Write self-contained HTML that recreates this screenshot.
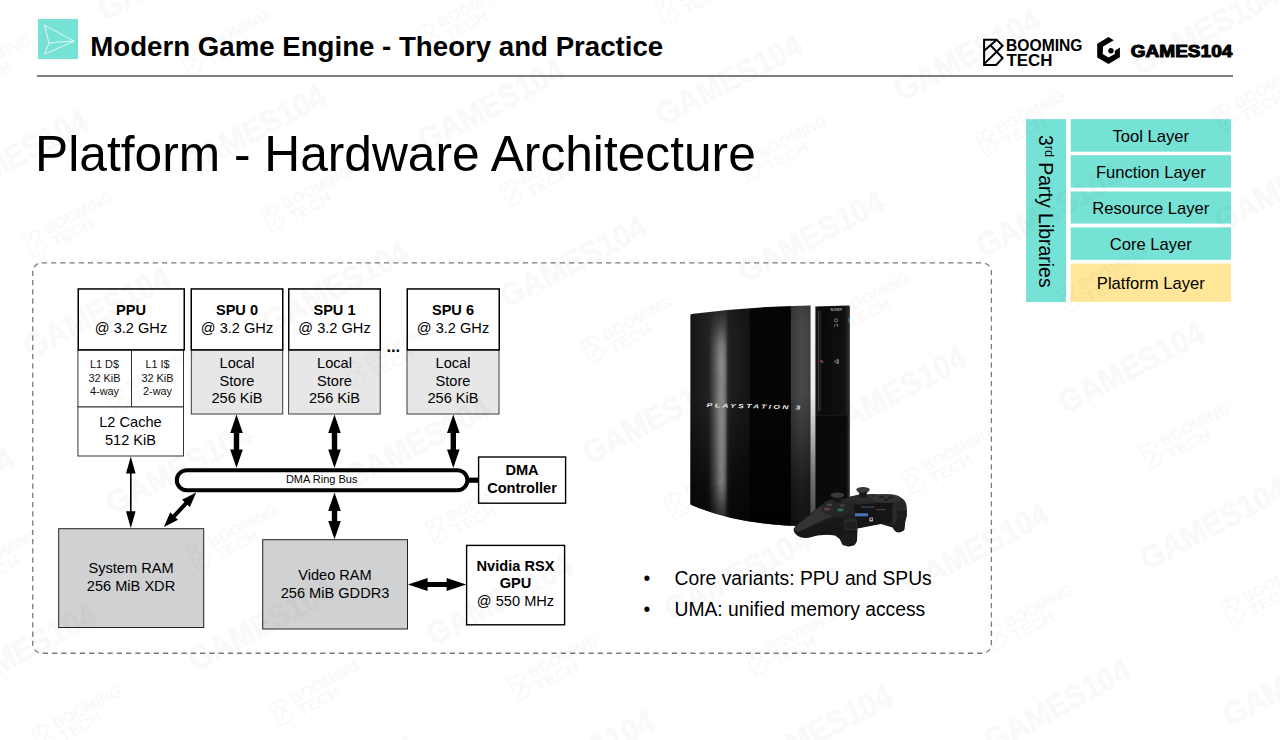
<!DOCTYPE html>
<html lang="en">
<head>
<meta charset="utf-8">
<title>Platform - Hardware Architecture</title>
<style>
html,body{margin:0;padding:0;background:#fff;}
body{width:1280px;height:740px;position:relative;overflow:hidden;font-family:"Liberation Sans",sans-serif;color:#000;}
.abs{position:absolute;}
.t{position:absolute;white-space:nowrap;line-height:1;}
svg{position:absolute;left:0;top:0;overflow:visible;}
svg text{font-family:"Liberation Sans",sans-serif;}
#hicon{left:38.1px;top:19.3px;width:39.7px;height:39.6px;background:#76e2d6;}
#htitle{left:90.3px;top:32.8px;font-size:27.65px;font-weight:bold;}
#hline{left:37px;top:75.2px;width:1195.5px;height:1.5px;background:#7f7f7f;}
#title{left:35.1px;top:129.6px;font-size:49.7px;}
.bul{position:absolute;font-size:19.3px;line-height:1;white-space:nowrap;}

</style>
</head>
<body>
<div class="abs" id="hicon"></div>
<svg width="1280" height="740" viewBox="0 0 1280 740" style="pointer-events:none">
<g fill="none" stroke="#fff" stroke-width="0.75" stroke-linejoin="round">
<path d="M44.3 25.1 L44.5 54.1" stroke="#a3c4c0" stroke-width="0.8"/>
<path d="M44.3 25.1 L74.2 41.2 L44.5 54.1 L49 42.9 Z"/>
<path d="M49 42.9 L55.5 42.7 L56 42.2 L74.2 41.2"/>
</g>
</svg>
<div class="t" id="htitle">Modern Game Engine - Theory and Practice</div>
<div class="abs" id="hline"></div>
<div class="t" id="title">Platform - Hardware Architecture</div>

<svg width="1280" height="740" viewBox="0 0 1280 740">
<g fill="none" stroke="#000" stroke-width="2" stroke-linejoin="miter">
<path d="M984.1 39.8 H996.7 L1002.6 45.7 L996.7 51.8 L1002.6 58.1 L996.2 64.9 H984.1 Z"/>
<path d="M984.1 50.8 L996.2 40.2"/>
<path d="M990.6 45.4 L996.7 51.8 L984.4 63.6"/>
</g>
<g font-weight="bold" font-size="16.2" fill="#000">
<text x="1006" y="50.8" textLength="76.5" lengthAdjust="spacingAndGlyphs">BOOMING</text>
<text x="1006.4" y="65.7" textLength="46" lengthAdjust="spacingAndGlyphs">TECH</text>
</g>
<path d="M1108.5 37.1 L1113.8 40.3 L1103.1 46.4 L1102.7 54.1 L1108.5 57.5 L1114.8 53.9 L1114.8 50.7 L1119.9 47.6 L1119.9 57.3 L1108.5 63.9 L1097.2 57.5 L1097.2 43.7 Z" fill="#000"/>
<circle cx="1110.9" cy="50.7" r="2.7" fill="#000"/>
<text x="1130.8" y="57" font-weight="bold" font-size="16" fill="#000" stroke="#000" stroke-width="1" stroke-linejoin="round" textLength="101.5" lengthAdjust="spacingAndGlyphs">GAMES104</text>
</svg>

<svg width="1280" height="740" viewBox="0 0 1280 740">
<g fill="#76e2d6">
<rect x="1026.1" y="119.15" width="39.9" height="182.8"/>
<rect x="1070.7" y="119.15" width="160.3" height="32.55"/>
<rect x="1070.7" y="155.2" width="160.3" height="32.5"/>
<rect x="1070.7" y="191.5" width="160.3" height="32.1"/>
<rect x="1070.7" y="227.4" width="160.3" height="32.45"/>
</g>
<rect x="1070.7" y="263.5" width="160.3" height="38.45" fill="#ffe699"/>
<g font-size="16.6" text-anchor="middle" fill="#000">
<text x="1150.8" y="141.9">Tool Layer</text>
<text x="1150.8" y="177.8">Function Layer</text>
<text x="1150.8" y="213.6">Resource Layer</text>
<text x="1150.8" y="249.8">Core Layer</text>
<text x="1150.8" y="288.6">Platform Layer</text>
</g>
<text transform="translate(1039.4 134.9) rotate(90)" font-size="19.45" fill="#000">3<tspan font-size="12.6" dy="-5.8">rd</tspan><tspan dy="5.8"> Party Libraries</tspan></text>
</svg>

<svg width="1280" height="740" viewBox="0 0 1280 740">
<rect x="32.75" y="262.9" width="958.65" height="390.35" rx="9" ry="9" fill="none" stroke="#7a7a7a" stroke-width="1.3" stroke-dasharray="5.2 4.05"/>
<!-- L1 / L2 -->
<g fill="#fff" stroke="#2a2a2a" stroke-width="0.95">
<rect x="77.95" y="350" width="53.55" height="57"/>
<rect x="131.5" y="350" width="52" height="57"/>
<rect x="77.95" y="407" width="105.55" height="49"/>
</g>
<!-- local stores -->
<g fill="#e7e7e8" stroke="#3a3a3a" stroke-width="1">
<rect x="191.3" y="350" width="91.4" height="64"/>
<rect x="288.6" y="350" width="91.6" height="64"/>
<rect x="407" y="350" width="92" height="64"/>
</g>
<!-- RAM -->
<g fill="#d0d1d3" stroke="#222" stroke-width="1">
<rect x="58.7" y="528.7" width="145" height="98.8"/>
<rect x="262.7" y="539.7" width="144.8" height="89.3"/>
</g>
<!-- processor boxes -->
<g fill="#fff" stroke="#000" stroke-width="1.5">
<rect x="78.25" y="288.95" width="106" height="60.9"/>
<rect x="191.25" y="288.95" width="91.5" height="60.9"/>
<rect x="288.75" y="288.95" width="91.5" height="60.9"/>
<rect x="407.25" y="288.95" width="92" height="60.9"/>
</g>
<g fill="#fff" stroke="#000" stroke-width="1.4">
<rect x="478.6" y="457" width="87" height="46.2"/>
<rect x="466.6" y="545.4" width="98" height="79.4"/>
</g>
<!-- ring bus -->
<rect x="176.8" y="470.15" width="290.6" height="20.2" rx="10.1" ry="10.1" fill="#fff" stroke="#000" stroke-width="4"/>
<rect x="469" y="477.6" width="10" height="5.2" fill="#000"/>
<!-- arrows -->
<g fill="#000">
<polygon points="236.50,414.60 230.20,432.90 233.80,432.90 233.80,449.60 230.20,449.60 236.50,467.90 242.80,449.60 239.20,449.60 239.20,432.90 242.80,432.90"/>
<polygon points="334.50,414.60 328.20,432.90 331.80,432.90 331.80,449.60 328.20,449.60 334.50,467.90 340.80,449.60 337.20,449.60 337.20,432.90 340.80,432.90"/>
<polygon points="453.30,414.60 447.00,432.90 450.60,432.90 450.60,449.60 447.00,449.60 453.30,467.90 459.60,449.60 456.00,449.60 456.00,432.90 459.60,432.90"/>
<polygon points="334.50,492.60 328.20,510.90 331.80,510.90 331.80,520.90 328.20,520.90 334.50,539.20 340.80,520.90 337.20,520.90 337.20,510.90 340.80,510.90"/>
<polygon points="130.80,456.50 126.00,473.50 130.00,473.50 130.00,511.30 126.00,511.30 130.80,528.30 135.60,511.30 131.60,511.30 131.60,473.50 135.60,473.50"/>
<polygon points="196.20,492.40 182.02,499.68 184.50,502.00 172.67,514.67 170.19,512.35 163.90,527.00 178.08,519.72 175.60,517.40 187.43,504.73 189.91,507.05"/>
<polygon points="408.00,584.50 427.60,591.10 427.60,587.10 446.60,587.10 446.60,591.10 466.20,584.50 446.60,577.90 446.60,581.90 427.60,581.90 427.60,577.90"/>
</g>
<!-- labels -->
<g font-size="14.6" text-anchor="middle" fill="#000">
<text x="131" y="314.9" font-weight="bold">PPU</text>
<text x="131" y="333.2">@ 3.2 GHz</text>
<text x="237" y="314.9" font-weight="bold">SPU 0</text>
<text x="237" y="333.2">@ 3.2 GHz</text>
<text x="334.5" y="314.9" font-weight="bold">SPU 1</text>
<text x="334.5" y="333.2">@ 3.2 GHz</text>
<text x="453" y="314.9" font-weight="bold">SPU 6</text>
<text x="453" y="333.2">@ 3.2 GHz</text>
<text x="393.3" y="352.4" font-weight="bold" font-size="16.6">...</text>
<text x="237" y="368">Local</text>
<text x="237" y="385.7">Store</text>
<text x="237" y="403">256 KiB</text>
<text x="334.5" y="368">Local</text>
<text x="334.5" y="385.7">Store</text>
<text x="334.5" y="403">256 KiB</text>
<text x="453" y="368">Local</text>
<text x="453" y="385.7">Store</text>
<text x="453" y="403">256 KiB</text>
<text x="130.5" y="427">L2 Cache</text>
<text x="130.5" y="444.5">512 KiB</text>
<text x="131" y="573">System RAM</text>
<text x="131" y="590.5">256 MiB XDR</text>
<text x="335" y="580">Video RAM</text>
<text x="335" y="597.5">256 MiB GDDR3</text>
<text x="522" y="474.5" font-weight="bold">DMA</text>
<text x="522" y="492.5" font-weight="bold">Controller</text>
<text x="515.5" y="570.5" font-weight="bold">Nvidia RSX</text>
<text x="515.5" y="588" font-weight="bold">GPU</text>
<text x="515.5" y="606">@ 550 MHz</text>
</g>
<g font-size="10.9" text-anchor="middle" fill="#111">
<text x="104.5" y="368.2">L1 D$</text>
<text x="104.5" y="381.6">32 KiB</text>
<text x="104.5" y="394.8">4-way</text>
<text x="157.5" y="368.2">L1 I$</text>
<text x="157.5" y="381.6">32 KiB</text>
<text x="157.5" y="394.8">2-way</text>
</g>
<text x="321.7" y="483.3" font-size="11" text-anchor="middle" fill="#000">DMA Ring Bus</text>
</svg>

<svg width="1280" height="740" viewBox="0 0 1280 740">
<defs>
<linearGradient id="bodyg" gradientUnits="userSpaceOnUse" x1="690" y1="0" x2="811" y2="0">
<stop offset="0" stop-color="#0e0e0e"/>
<stop offset="0.02" stop-color="#18181a"/>
<stop offset="0.16" stop-color="#222224"/>
<stop offset="0.21" stop-color="#2c2c2e"/>
<stop offset="0.30" stop-color="#2a2a2c"/>
<stop offset="0.32" stop-color="#1d1e20"/>
<stop offset="0.49" stop-color="#141516"/>
<stop offset="0.497" stop-color="#050505"/>
<stop offset="0.83" stop-color="#050505"/>
<stop offset="0.834" stop-color="#38393b"/>
<stop offset="0.92" stop-color="#48494c"/>
<stop offset="0.985" stop-color="#404043"/>
<stop offset="1" stop-color="#2a2a2a"/>
</linearGradient>
<linearGradient id="hlh" gradientUnits="userSpaceOnUse" x1="706" y1="0" x2="731" y2="0">
<stop offset="0" stop-color="#fff" stop-opacity="0"/>
<stop offset="0.12" stop-color="#fff" stop-opacity="0.02"/>
<stop offset="0.38" stop-color="#fff" stop-opacity="0.24"/>
<stop offset="0.52" stop-color="#fff" stop-opacity="0.40"/>
<stop offset="0.64" stop-color="#fff" stop-opacity="0.45"/>
<stop offset="0.75" stop-color="#fff" stop-opacity="0.36"/>
<stop offset="0.87" stop-color="#fff" stop-opacity="0.05"/>
<stop offset="1" stop-color="#fff" stop-opacity="0"/>
</linearGradient>
<linearGradient id="hlv" gradientUnits="userSpaceOnUse" x1="0" y1="305" x2="0" y2="527">
<stop offset="0" stop-color="#000"/>
<stop offset="0.05" stop-color="#1a1a1a"/>
<stop offset="0.1" stop-color="#555"/>
<stop offset="0.18" stop-color="#ddd"/>
<stop offset="0.25" stop-color="#fff"/>
<stop offset="0.8" stop-color="#fff"/>
<stop offset="0.9" stop-color="#888"/>
<stop offset="1" stop-color="#222"/>
</linearGradient>
<mask id="hlmask" maskUnits="userSpaceOnUse" x="690" y="300" width="130" height="235"><rect x="690" y="300" width="130" height="235" fill="url(#hlv)"/></mask>
<clipPath id="bodyclip"><path d="M690.4 315.4 Q690.4 314.2 691.6 314 Q750 306.5 810.5 305.5 L810.5 526.3 Q740 526 691.4 505 Q690.4 504.6 690.4 503.4 Z"/></clipPath>
<linearGradient id="bodyv" gradientUnits="userSpaceOnUse" x1="0" y1="305" x2="0" y2="527">
<stop offset="0" stop-color="#000" stop-opacity="0.12"/>
<stop offset="0.1" stop-color="#000" stop-opacity="0"/>
<stop offset="0.4" stop-color="#000" stop-opacity="0"/>
<stop offset="0.65" stop-color="#000" stop-opacity="0.35"/>
<stop offset="0.8" stop-color="#000" stop-opacity="0.6"/>
<stop offset="1" stop-color="#000" stop-opacity="0.75"/>
</linearGradient>
<linearGradient id="chromeg" gradientUnits="userSpaceOnUse" x1="0" y1="305" x2="0" y2="527">
<stop offset="0" stop-color="#f8f8f8"/>
<stop offset="0.4" stop-color="#ededed"/>
<stop offset="0.55" stop-color="#c0c0c0"/>
<stop offset="0.7" stop-color="#8a8a8a"/>
<stop offset="0.8" stop-color="#6c6c6c"/>
<stop offset="1" stop-color="#444"/>
</linearGradient>
<linearGradient id="panelg" gradientUnits="userSpaceOnUse" x1="814" y1="0" x2="850" y2="0">
<stop offset="0" stop-color="#1a1a1a"/>
<stop offset="0.2" stop-color="#0a0a0a"/>
<stop offset="0.85" stop-color="#111111"/>
<stop offset="0.95" stop-color="#262626"/>
<stop offset="1" stop-color="#3a3a3a"/>
</linearGradient>
<linearGradient id="padg" gradientUnits="userSpaceOnUse" x1="0" y1="490" x2="0" y2="545">
<stop offset="0" stop-color="#303030"/>
<stop offset="0.5" stop-color="#1e1e1e"/>
<stop offset="1" stop-color="#141414"/>
</linearGradient>
</defs>
<!-- front panel -->
<path d="M814 306.6 L848.9 305.6 Q849.9 305.7 849.9 307 L849.9 500 L814 527 Z" fill="url(#panelg)"/>
<rect x="815" y="415" width="32.6" height="100" fill="#161616"/>
<rect x="815.8" y="416" width="30.8" height="100" fill="#0a0a0a"/>
<rect x="818.2" y="311" width="1.1" height="100" fill="#4a4a4a"/>
<rect x="819.3" y="311" width="2" height="100" fill="#1e1e1e"/>
<text x="830.3" y="311" font-family="'Liberation Serif',serif" font-weight="bold" font-size="3.8" fill="#a8a8a8" textLength="12.2" lengthAdjust="spacingAndGlyphs">SONY</text>
<g fill="none" stroke="#bdbdbd" stroke-width="0.6">
<circle cx="836" cy="320.5" r="1.6"/>
<path d="M834.6 324.5 V326.8 M835.8 324.5 H837.6 V326.8"/>
<path d="M834.4 361.5 L837.6 359.3 V363.7 Z M838.4 359.3 V363.7"/>
</g>
<circle cx="821.3" cy="361" r="1.1" fill="#d23a3a"/>
<circle cx="822.6" cy="362.2" r="0.9" fill="#3a62c8"/>
<rect x="848.6" y="317.6" width="1.2" height="2.6" fill="#3d8fd8"/>
<rect x="848.6" y="320.4" width="1.2" height="2" fill="#4fae6a"/>
<!-- chrome strip -->
<path d="M810.3 305.6 L815.4 306.3 L815.4 524 L810.3 526.3 Z" fill="url(#chromeg)"/>
<!-- main body -->
<path id="ps3body" d="M690.4 315.4 Q690.4 314.2 691.6 314 Q750 306.5 810.5 305.5 L810.5 526.3 Q740 526 691.4 505 Q690.4 504.6 690.4 503.4 Z" fill="url(#bodyg)"/>
<path d="M690.4 315.4 Q690.4 314.2 691.6 314 Q750 306.5 810.5 305.5 L810.5 526.3 Q740 526 691.4 505 Q690.4 504.6 690.4 503.4 Z" fill="url(#bodyv)"/>
<g clip-path="url(#bodyclip)"><rect x="706" y="300" width="25" height="235" fill="url(#hlh)" mask="url(#hlmask)"/></g>
<text transform="translate(706.6 407) rotate(1.6) scale(1.5 1)" font-weight="bold" font-style="italic" font-size="5.7" fill="#ededed" textLength="62.4" lengthAdjust="spacing">PLAYSTATION 3</text>
<!-- controller -->
<g>
<path d="M793.8 528.6 Q797 523 803 519.4 L814.5 510.2 L821.3 505 Q826 501 830 499.5 L846 498.5 L851.5 496 L871 494 Q886 493.4 900.6 497.5 Q906 500 906.6 506 L907 515 L905.3 522 L904 529.7 Q901 533.5 896 532 L892.5 527.4 L881 524 L857.5 528.6 L857 541 Q855 546.8 847.8 546.4 Q842 545 839.7 538.9 L835 535.5 Q822 533 808.7 537.8 Q801 538.5 797.2 535.5 Q793 532.5 793.8 528.6 Z" fill="url(#padg)"/>
<path d="M795 528 Q798 523.5 803.5 520 L815 511 L822 506 Q830 509 836 515 Q826 518 814 524.5 Q804 530 797 532 Q794.5 530.5 795 528 Z" fill="#343434"/>
<path d="M797 533 Q808 530 820 524 Q830 519.5 843 518 L843.5 531 Q838 533.5 835 535 Q822 532.5 808.7 537.2 Q801 538 797 533 Z" fill="#171717"/>
<path d="M853 505 L893 502 L895 522 L881 523.5 L857.5 528 L856 515 Z" fill="#151515"/>
<path d="M821.3 505.5 Q836 499.5 850 505.5 Q852 512 845 515.5 Q835 518 822.5 512.5 Z" fill="#262626"/>
<ellipse cx="837.4" cy="495.2" rx="6.9" ry="2.8" fill="#3a3a3a"/>
<path d="M831 496.2 Q837.4 499.6 843.8 496.2 L841.4 498.6 L841.4 502.4 L833.6 502.4 L833.6 498.6 Z" fill="#181818"/>
<ellipse cx="863" cy="497.6" rx="10.2" ry="3.4" fill="#2c2c2c"/>
<ellipse cx="863" cy="489.7" rx="6.7" ry="2.7" fill="#3a3a3a"/>
<path d="M856.7 490.6 Q863 494 869.3 490.6 L866.8 493 L866.8 497.4 L859.2 497.4 L859.2 493 Z" fill="#181818"/>
<ellipse cx="886" cy="498.4" rx="15" ry="4.4" fill="#333"/>
<ellipse cx="881.5" cy="497" rx="2.6" ry="1.1" fill="#1a1a1a"/>
<ellipse cx="890.5" cy="497.4" rx="2.6" ry="1.1" fill="#1a1a1a"/>
<ellipse cx="886" cy="500" rx="2.6" ry="1.1" fill="#1a1a1a"/>
<rect x="844.6" y="519.3" width="12.4" height="10.6" rx="1.6" fill="#2c2c2c"/>
<rect x="845.6" y="521.6" width="10.4" height="7.4" rx="1.2" fill="#1f1f1f"/>
<rect x="841.6" y="534" width="14" height="11.4" rx="2.8" fill="#1c1c1c"/>
<rect x="896" y="508" width="10.6" height="8.8" rx="1.6" fill="#2a2a2a"/>
<rect x="897" y="510" width="8.8" height="6" rx="1.2" fill="#1d1d1d"/>
<rect x="893.6" y="520.6" width="11" height="10.4" rx="2.8" fill="#1c1c1c"/>
<path d="M893 503 Q898 506 897 513 L896 521 L893 527 L892 512 Z" fill="#2a2a2a"/>
<rect x="855" y="513.3" width="13" height="3" fill="#4a74bc"/>
<rect x="861.5" y="506.4" width="13" height="1.3" fill="#3a4660"/>
<rect x="876" y="509" width="9.5" height="1.2" fill="#5a3a3a"/>
<rect x="869.4" y="517.6" width="3.6" height="3.8" fill="#b8b8b8"/>
<rect x="870.2" y="518.4" width="2" height="1.6" fill="#333"/>
<ellipse cx="827" cy="509" rx="3.2" ry="1.6" fill="#6a3a42"/>
<ellipse cx="840.4" cy="509.8" rx="3.2" ry="1.6" fill="#2c6f60"/>
<ellipse cx="829.5" cy="504.8" rx="2.6" ry="1.2" fill="#4a4a4a"/>
<ellipse cx="842.5" cy="505.4" rx="2.6" ry="1.2" fill="#4c4150"/>
</g>
</svg>

<div class="bul" style="left:643.4px;top:568.7px;">•</div>
<div class="bul" style="left:674.5px;top:568.8px;">Core variants: PPU and SPUs</div>
<div class="bul" style="left:643.4px;top:599.7px;">•</div>
<div class="bul" style="left:674.5px;top:599.8px;">UMA: unified memory access</div>

<svg width="1280" height="740" viewBox="0 0 1280 740" style="pointer-events:none">
<g fill="#000" opacity="0.027" stroke="#000" stroke-width="0.9" stroke-linejoin="round" font-weight="bold">
<g transform="translate(-100.3 415.1) rotate(-27.7) translate(19 0)"><path stroke="none" d="M-50 -14 H-37 L-31 -8 L-37 -1.5 L-31 5 L-37.5 12 H-50 Z M-48 -12 V10 H-38.4 L-33.7 5 L-38.2 0 L-46 7.6 L-47.4 6.2 L-39.6 -1.5 L-44.2 -6.3 L-46.6 -3.9 L-48 -5.3 L-41.5 -12 Z M-42.8 -7.7 L-38.2 -3 L-33.7 -8 L-37.8 -12 H-38.6 Z" fill-rule="evenodd"/><text x="-27" y="-2.3" font-size="15.5" stroke-width="0.3" textLength="76" lengthAdjust="spacingAndGlyphs">BOOMING</text><text x="-26.5" y="12" font-size="15.5" stroke-width="0.3" textLength="46" lengthAdjust="spacingAndGlyphs">TECH</text></g>
<text transform="translate(-59.2 493.2) rotate(-27.7)" x="-80" y="11.5" font-size="32.5" textLength="160" lengthAdjust="spacingAndGlyphs">GAMES104</text>
<g transform="translate(-18.2 571.4) rotate(-27.7) translate(19 0)"><path stroke="none" d="M-50 -14 H-37 L-31 -8 L-37 -1.5 L-31 5 L-37.5 12 H-50 Z M-48 -12 V10 H-38.4 L-33.7 5 L-38.2 0 L-46 7.6 L-47.4 6.2 L-39.6 -1.5 L-44.2 -6.3 L-46.6 -3.9 L-48 -5.3 L-41.5 -12 Z M-42.8 -7.7 L-38.2 -3 L-33.7 -8 L-37.8 -12 H-38.6 Z" fill-rule="evenodd"/><text x="-27" y="-2.3" font-size="15.5" stroke-width="0.3" textLength="76" lengthAdjust="spacingAndGlyphs">BOOMING</text><text x="-26.5" y="12" font-size="15.5" stroke-width="0.3" textLength="46" lengthAdjust="spacingAndGlyphs">TECH</text></g>
<text transform="translate(22.9 649.6) rotate(-27.7)" x="-80" y="11.5" font-size="32.5" textLength="160" lengthAdjust="spacingAndGlyphs">GAMES104</text>
<g transform="translate(63.9 727.8) rotate(-27.7) translate(19 0)"><path stroke="none" d="M-50 -14 H-37 L-31 -8 L-37 -1.5 L-31 5 L-37.5 12 H-50 Z M-48 -12 V10 H-38.4 L-33.7 5 L-38.2 0 L-46 7.6 L-47.4 6.2 L-39.6 -1.5 L-44.2 -6.3 L-46.6 -3.9 L-48 -5.3 L-41.5 -12 Z M-42.8 -7.7 L-38.2 -3 L-33.7 -8 L-37.8 -12 H-38.6 Z" fill-rule="evenodd"/><text x="-27" y="-2.3" font-size="15.5" stroke-width="0.3" textLength="76" lengthAdjust="spacingAndGlyphs">BOOMING</text><text x="-26.5" y="12" font-size="15.5" stroke-width="0.3" textLength="46" lengthAdjust="spacingAndGlyphs">TECH</text></g>
<text transform="translate(105.0 806.0) rotate(-27.7)" x="-80" y="11.5" font-size="32.5" textLength="160" lengthAdjust="spacingAndGlyphs">GAMES104</text>
<text transform="translate(-67.5 -1.1) rotate(-27.7)" x="-80" y="11.5" font-size="32.5" textLength="160" lengthAdjust="spacingAndGlyphs">GAMES104</text>
<g transform="translate(-26.4 77.1) rotate(-27.7) translate(19 0)"><path stroke="none" d="M-50 -14 H-37 L-31 -8 L-37 -1.5 L-31 5 L-37.5 12 H-50 Z M-48 -12 V10 H-38.4 L-33.7 5 L-38.2 0 L-46 7.6 L-47.4 6.2 L-39.6 -1.5 L-44.2 -6.3 L-46.6 -3.9 L-48 -5.3 L-41.5 -12 Z M-42.8 -7.7 L-38.2 -3 L-33.7 -8 L-37.8 -12 H-38.6 Z" fill-rule="evenodd"/><text x="-27" y="-2.3" font-size="15.5" stroke-width="0.3" textLength="76" lengthAdjust="spacingAndGlyphs">BOOMING</text><text x="-26.5" y="12" font-size="15.5" stroke-width="0.3" textLength="46" lengthAdjust="spacingAndGlyphs">TECH</text></g>
<text transform="translate(14.6 155.3) rotate(-27.7)" x="-80" y="11.5" font-size="32.5" textLength="160" lengthAdjust="spacingAndGlyphs">GAMES104</text>
<g transform="translate(55.7 233.4) rotate(-27.7) translate(19 0)"><path stroke="none" d="M-50 -14 H-37 L-31 -8 L-37 -1.5 L-31 5 L-37.5 12 H-50 Z M-48 -12 V10 H-38.4 L-33.7 5 L-38.2 0 L-46 7.6 L-47.4 6.2 L-39.6 -1.5 L-44.2 -6.3 L-46.6 -3.9 L-48 -5.3 L-41.5 -12 Z M-42.8 -7.7 L-38.2 -3 L-33.7 -8 L-37.8 -12 H-38.6 Z" fill-rule="evenodd"/><text x="-27" y="-2.3" font-size="15.5" stroke-width="0.3" textLength="76" lengthAdjust="spacingAndGlyphs">BOOMING</text><text x="-26.5" y="12" font-size="15.5" stroke-width="0.3" textLength="46" lengthAdjust="spacingAndGlyphs">TECH</text></g>
<text transform="translate(96.7 311.6) rotate(-27.7)" x="-80" y="11.5" font-size="32.5" textLength="160" lengthAdjust="spacingAndGlyphs">GAMES104</text>
<g transform="translate(137.8 389.8) rotate(-27.7) translate(19 0)"><path stroke="none" d="M-50 -14 H-37 L-31 -8 L-37 -1.5 L-31 5 L-37.5 12 H-50 Z M-48 -12 V10 H-38.4 L-33.7 5 L-38.2 0 L-46 7.6 L-47.4 6.2 L-39.6 -1.5 L-44.2 -6.3 L-46.6 -3.9 L-48 -5.3 L-41.5 -12 Z M-42.8 -7.7 L-38.2 -3 L-33.7 -8 L-37.8 -12 H-38.6 Z" fill-rule="evenodd"/><text x="-27" y="-2.3" font-size="15.5" stroke-width="0.3" textLength="76" lengthAdjust="spacingAndGlyphs">BOOMING</text><text x="-26.5" y="12" font-size="15.5" stroke-width="0.3" textLength="46" lengthAdjust="spacingAndGlyphs">TECH</text></g>
<text transform="translate(178.8 468.0) rotate(-27.7)" x="-80" y="11.5" font-size="32.5" textLength="160" lengthAdjust="spacingAndGlyphs">GAMES104</text>
<g transform="translate(219.9 546.2) rotate(-27.7) translate(19 0)"><path stroke="none" d="M-50 -14 H-37 L-31 -8 L-37 -1.5 L-31 5 L-37.5 12 H-50 Z M-48 -12 V10 H-38.4 L-33.7 5 L-38.2 0 L-46 7.6 L-47.4 6.2 L-39.6 -1.5 L-44.2 -6.3 L-46.6 -3.9 L-48 -5.3 L-41.5 -12 Z M-42.8 -7.7 L-38.2 -3 L-33.7 -8 L-37.8 -12 H-38.6 Z" fill-rule="evenodd"/><text x="-27" y="-2.3" font-size="15.5" stroke-width="0.3" textLength="76" lengthAdjust="spacingAndGlyphs">BOOMING</text><text x="-26.5" y="12" font-size="15.5" stroke-width="0.3" textLength="46" lengthAdjust="spacingAndGlyphs">TECH</text></g>
<text transform="translate(260.9 624.3) rotate(-27.7)" x="-80" y="11.5" font-size="32.5" textLength="160" lengthAdjust="spacingAndGlyphs">GAMES104</text>
<g transform="translate(302.0 702.5) rotate(-27.7) translate(19 0)"><path stroke="none" d="M-50 -14 H-37 L-31 -8 L-37 -1.5 L-31 5 L-37.5 12 H-50 Z M-48 -12 V10 H-38.4 L-33.7 5 L-38.2 0 L-46 7.6 L-47.4 6.2 L-39.6 -1.5 L-44.2 -6.3 L-46.6 -3.9 L-48 -5.3 L-41.5 -12 Z M-42.8 -7.7 L-38.2 -3 L-33.7 -8 L-37.8 -12 H-38.6 Z" fill-rule="evenodd"/><text x="-27" y="-2.3" font-size="15.5" stroke-width="0.3" textLength="76" lengthAdjust="spacingAndGlyphs">BOOMING</text><text x="-26.5" y="12" font-size="15.5" stroke-width="0.3" textLength="46" lengthAdjust="spacingAndGlyphs">TECH</text></g>
<text transform="translate(343.0 780.7) rotate(-27.7)" x="-80" y="11.5" font-size="32.5" textLength="160" lengthAdjust="spacingAndGlyphs">GAMES104</text>
<text transform="translate(170.6 -26.3) rotate(-27.7)" x="-80" y="11.5" font-size="32.5" textLength="160" lengthAdjust="spacingAndGlyphs">GAMES104</text>
<g transform="translate(211.6 51.8) rotate(-27.7) translate(19 0)"><path stroke="none" d="M-50 -14 H-37 L-31 -8 L-37 -1.5 L-31 5 L-37.5 12 H-50 Z M-48 -12 V10 H-38.4 L-33.7 5 L-38.2 0 L-46 7.6 L-47.4 6.2 L-39.6 -1.5 L-44.2 -6.3 L-46.6 -3.9 L-48 -5.3 L-41.5 -12 Z M-42.8 -7.7 L-38.2 -3 L-33.7 -8 L-37.8 -12 H-38.6 Z" fill-rule="evenodd"/><text x="-27" y="-2.3" font-size="15.5" stroke-width="0.3" textLength="76" lengthAdjust="spacingAndGlyphs">BOOMING</text><text x="-26.5" y="12" font-size="15.5" stroke-width="0.3" textLength="46" lengthAdjust="spacingAndGlyphs">TECH</text></g>
<text transform="translate(252.7 130.0) rotate(-27.7)" x="-80" y="11.5" font-size="32.5" textLength="160" lengthAdjust="spacingAndGlyphs">GAMES104</text>
<g transform="translate(293.7 208.2) rotate(-27.7) translate(19 0)"><path stroke="none" d="M-50 -14 H-37 L-31 -8 L-37 -1.5 L-31 5 L-37.5 12 H-50 Z M-48 -12 V10 H-38.4 L-33.7 5 L-38.2 0 L-46 7.6 L-47.4 6.2 L-39.6 -1.5 L-44.2 -6.3 L-46.6 -3.9 L-48 -5.3 L-41.5 -12 Z M-42.8 -7.7 L-38.2 -3 L-33.7 -8 L-37.8 -12 H-38.6 Z" fill-rule="evenodd"/><text x="-27" y="-2.3" font-size="15.5" stroke-width="0.3" textLength="76" lengthAdjust="spacingAndGlyphs">BOOMING</text><text x="-26.5" y="12" font-size="15.5" stroke-width="0.3" textLength="46" lengthAdjust="spacingAndGlyphs">TECH</text></g>
<text transform="translate(334.8 286.4) rotate(-27.7)" x="-80" y="11.5" font-size="32.5" textLength="160" lengthAdjust="spacingAndGlyphs">GAMES104</text>
<g transform="translate(375.8 364.6) rotate(-27.7) translate(19 0)"><path stroke="none" d="M-50 -14 H-37 L-31 -8 L-37 -1.5 L-31 5 L-37.5 12 H-50 Z M-48 -12 V10 H-38.4 L-33.7 5 L-38.2 0 L-46 7.6 L-47.4 6.2 L-39.6 -1.5 L-44.2 -6.3 L-46.6 -3.9 L-48 -5.3 L-41.5 -12 Z M-42.8 -7.7 L-38.2 -3 L-33.7 -8 L-37.8 -12 H-38.6 Z" fill-rule="evenodd"/><text x="-27" y="-2.3" font-size="15.5" stroke-width="0.3" textLength="76" lengthAdjust="spacingAndGlyphs">BOOMING</text><text x="-26.5" y="12" font-size="15.5" stroke-width="0.3" textLength="46" lengthAdjust="spacingAndGlyphs">TECH</text></g>
<text transform="translate(416.9 442.7) rotate(-27.7)" x="-80" y="11.5" font-size="32.5" textLength="160" lengthAdjust="spacingAndGlyphs">GAMES104</text>
<g transform="translate(457.9 520.9) rotate(-27.7) translate(19 0)"><path stroke="none" d="M-50 -14 H-37 L-31 -8 L-37 -1.5 L-31 5 L-37.5 12 H-50 Z M-48 -12 V10 H-38.4 L-33.7 5 L-38.2 0 L-46 7.6 L-47.4 6.2 L-39.6 -1.5 L-44.2 -6.3 L-46.6 -3.9 L-48 -5.3 L-41.5 -12 Z M-42.8 -7.7 L-38.2 -3 L-33.7 -8 L-37.8 -12 H-38.6 Z" fill-rule="evenodd"/><text x="-27" y="-2.3" font-size="15.5" stroke-width="0.3" textLength="76" lengthAdjust="spacingAndGlyphs">BOOMING</text><text x="-26.5" y="12" font-size="15.5" stroke-width="0.3" textLength="46" lengthAdjust="spacingAndGlyphs">TECH</text></g>
<text transform="translate(499.0 599.1) rotate(-27.7)" x="-80" y="11.5" font-size="32.5" textLength="160" lengthAdjust="spacingAndGlyphs">GAMES104</text>
<g transform="translate(540.0 677.3) rotate(-27.7) translate(19 0)"><path stroke="none" d="M-50 -14 H-37 L-31 -8 L-37 -1.5 L-31 5 L-37.5 12 H-50 Z M-48 -12 V10 H-38.4 L-33.7 5 L-38.2 0 L-46 7.6 L-47.4 6.2 L-39.6 -1.5 L-44.2 -6.3 L-46.6 -3.9 L-48 -5.3 L-41.5 -12 Z M-42.8 -7.7 L-38.2 -3 L-33.7 -8 L-37.8 -12 H-38.6 Z" fill-rule="evenodd"/><text x="-27" y="-2.3" font-size="15.5" stroke-width="0.3" textLength="76" lengthAdjust="spacingAndGlyphs">BOOMING</text><text x="-26.5" y="12" font-size="15.5" stroke-width="0.3" textLength="46" lengthAdjust="spacingAndGlyphs">TECH</text></g>
<text transform="translate(581.0 755.5) rotate(-27.7)" x="-80" y="11.5" font-size="32.5" textLength="160" lengthAdjust="spacingAndGlyphs">GAMES104</text>
<text transform="translate(408.6 -51.6) rotate(-27.7)" x="-80" y="11.5" font-size="32.5" textLength="160" lengthAdjust="spacingAndGlyphs">GAMES104</text>
<g transform="translate(449.7 26.6) rotate(-27.7) translate(19 0)"><path stroke="none" d="M-50 -14 H-37 L-31 -8 L-37 -1.5 L-31 5 L-37.5 12 H-50 Z M-48 -12 V10 H-38.4 L-33.7 5 L-38.2 0 L-46 7.6 L-47.4 6.2 L-39.6 -1.5 L-44.2 -6.3 L-46.6 -3.9 L-48 -5.3 L-41.5 -12 Z M-42.8 -7.7 L-38.2 -3 L-33.7 -8 L-37.8 -12 H-38.6 Z" fill-rule="evenodd"/><text x="-27" y="-2.3" font-size="15.5" stroke-width="0.3" textLength="76" lengthAdjust="spacingAndGlyphs">BOOMING</text><text x="-26.5" y="12" font-size="15.5" stroke-width="0.3" textLength="46" lengthAdjust="spacingAndGlyphs">TECH</text></g>
<text transform="translate(490.7 104.8) rotate(-27.7)" x="-80" y="11.5" font-size="32.5" textLength="160" lengthAdjust="spacingAndGlyphs">GAMES104</text>
<g transform="translate(531.8 183.0) rotate(-27.7) translate(19 0)"><path stroke="none" d="M-50 -14 H-37 L-31 -8 L-37 -1.5 L-31 5 L-37.5 12 H-50 Z M-48 -12 V10 H-38.4 L-33.7 5 L-38.2 0 L-46 7.6 L-47.4 6.2 L-39.6 -1.5 L-44.2 -6.3 L-46.6 -3.9 L-48 -5.3 L-41.5 -12 Z M-42.8 -7.7 L-38.2 -3 L-33.7 -8 L-37.8 -12 H-38.6 Z" fill-rule="evenodd"/><text x="-27" y="-2.3" font-size="15.5" stroke-width="0.3" textLength="76" lengthAdjust="spacingAndGlyphs">BOOMING</text><text x="-26.5" y="12" font-size="15.5" stroke-width="0.3" textLength="46" lengthAdjust="spacingAndGlyphs">TECH</text></g>
<text transform="translate(572.8 261.1) rotate(-27.7)" x="-80" y="11.5" font-size="32.5" textLength="160" lengthAdjust="spacingAndGlyphs">GAMES104</text>
<g transform="translate(613.9 339.3) rotate(-27.7) translate(19 0)"><path stroke="none" d="M-50 -14 H-37 L-31 -8 L-37 -1.5 L-31 5 L-37.5 12 H-50 Z M-48 -12 V10 H-38.4 L-33.7 5 L-38.2 0 L-46 7.6 L-47.4 6.2 L-39.6 -1.5 L-44.2 -6.3 L-46.6 -3.9 L-48 -5.3 L-41.5 -12 Z M-42.8 -7.7 L-38.2 -3 L-33.7 -8 L-37.8 -12 H-38.6 Z" fill-rule="evenodd"/><text x="-27" y="-2.3" font-size="15.5" stroke-width="0.3" textLength="76" lengthAdjust="spacingAndGlyphs">BOOMING</text><text x="-26.5" y="12" font-size="15.5" stroke-width="0.3" textLength="46" lengthAdjust="spacingAndGlyphs">TECH</text></g>
<text transform="translate(654.9 417.5) rotate(-27.7)" x="-80" y="11.5" font-size="32.5" textLength="160" lengthAdjust="spacingAndGlyphs">GAMES104</text>
<g transform="translate(696.0 495.7) rotate(-27.7) translate(19 0)"><path stroke="none" d="M-50 -14 H-37 L-31 -8 L-37 -1.5 L-31 5 L-37.5 12 H-50 Z M-48 -12 V10 H-38.4 L-33.7 5 L-38.2 0 L-46 7.6 L-47.4 6.2 L-39.6 -1.5 L-44.2 -6.3 L-46.6 -3.9 L-48 -5.3 L-41.5 -12 Z M-42.8 -7.7 L-38.2 -3 L-33.7 -8 L-37.8 -12 H-38.6 Z" fill-rule="evenodd"/><text x="-27" y="-2.3" font-size="15.5" stroke-width="0.3" textLength="76" lengthAdjust="spacingAndGlyphs">BOOMING</text><text x="-26.5" y="12" font-size="15.5" stroke-width="0.3" textLength="46" lengthAdjust="spacingAndGlyphs">TECH</text></g>
<text transform="translate(737.0 573.9) rotate(-27.7)" x="-80" y="11.5" font-size="32.5" textLength="160" lengthAdjust="spacingAndGlyphs">GAMES104</text>
<g transform="translate(778.0 652.0) rotate(-27.7) translate(19 0)"><path stroke="none" d="M-50 -14 H-37 L-31 -8 L-37 -1.5 L-31 5 L-37.5 12 H-50 Z M-48 -12 V10 H-38.4 L-33.7 5 L-38.2 0 L-46 7.6 L-47.4 6.2 L-39.6 -1.5 L-44.2 -6.3 L-46.6 -3.9 L-48 -5.3 L-41.5 -12 Z M-42.8 -7.7 L-38.2 -3 L-33.7 -8 L-37.8 -12 H-38.6 Z" fill-rule="evenodd"/><text x="-27" y="-2.3" font-size="15.5" stroke-width="0.3" textLength="76" lengthAdjust="spacingAndGlyphs">BOOMING</text><text x="-26.5" y="12" font-size="15.5" stroke-width="0.3" textLength="46" lengthAdjust="spacingAndGlyphs">TECH</text></g>
<text transform="translate(819.1 730.2) rotate(-27.7)" x="-80" y="11.5" font-size="32.5" textLength="160" lengthAdjust="spacingAndGlyphs">GAMES104</text>
<g transform="translate(860.1 808.4) rotate(-27.7) translate(19 0)"><path stroke="none" d="M-50 -14 H-37 L-31 -8 L-37 -1.5 L-31 5 L-37.5 12 H-50 Z M-48 -12 V10 H-38.4 L-33.7 5 L-38.2 0 L-46 7.6 L-47.4 6.2 L-39.6 -1.5 L-44.2 -6.3 L-46.6 -3.9 L-48 -5.3 L-41.5 -12 Z M-42.8 -7.7 L-38.2 -3 L-33.7 -8 L-37.8 -12 H-38.6 Z" fill-rule="evenodd"/><text x="-27" y="-2.3" font-size="15.5" stroke-width="0.3" textLength="76" lengthAdjust="spacingAndGlyphs">BOOMING</text><text x="-26.5" y="12" font-size="15.5" stroke-width="0.3" textLength="46" lengthAdjust="spacingAndGlyphs">TECH</text></g>
<g transform="translate(687.7 1.3) rotate(-27.7) translate(19 0)"><path stroke="none" d="M-50 -14 H-37 L-31 -8 L-37 -1.5 L-31 5 L-37.5 12 H-50 Z M-48 -12 V10 H-38.4 L-33.7 5 L-38.2 0 L-46 7.6 L-47.4 6.2 L-39.6 -1.5 L-44.2 -6.3 L-46.6 -3.9 L-48 -5.3 L-41.5 -12 Z M-42.8 -7.7 L-38.2 -3 L-33.7 -8 L-37.8 -12 H-38.6 Z" fill-rule="evenodd"/><text x="-27" y="-2.3" font-size="15.5" stroke-width="0.3" textLength="76" lengthAdjust="spacingAndGlyphs">BOOMING</text><text x="-26.5" y="12" font-size="15.5" stroke-width="0.3" textLength="46" lengthAdjust="spacingAndGlyphs">TECH</text></g>
<text transform="translate(728.8 79.5) rotate(-27.7)" x="-80" y="11.5" font-size="32.5" textLength="160" lengthAdjust="spacingAndGlyphs">GAMES104</text>
<g transform="translate(769.8 157.7) rotate(-27.7) translate(19 0)"><path stroke="none" d="M-50 -14 H-37 L-31 -8 L-37 -1.5 L-31 5 L-37.5 12 H-50 Z M-48 -12 V10 H-38.4 L-33.7 5 L-38.2 0 L-46 7.6 L-47.4 6.2 L-39.6 -1.5 L-44.2 -6.3 L-46.6 -3.9 L-48 -5.3 L-41.5 -12 Z M-42.8 -7.7 L-38.2 -3 L-33.7 -8 L-37.8 -12 H-38.6 Z" fill-rule="evenodd"/><text x="-27" y="-2.3" font-size="15.5" stroke-width="0.3" textLength="76" lengthAdjust="spacingAndGlyphs">BOOMING</text><text x="-26.5" y="12" font-size="15.5" stroke-width="0.3" textLength="46" lengthAdjust="spacingAndGlyphs">TECH</text></g>
<text transform="translate(810.9 235.9) rotate(-27.7)" x="-80" y="11.5" font-size="32.5" textLength="160" lengthAdjust="spacingAndGlyphs">GAMES104</text>
<g transform="translate(851.9 314.1) rotate(-27.7) translate(19 0)"><path stroke="none" d="M-50 -14 H-37 L-31 -8 L-37 -1.5 L-31 5 L-37.5 12 H-50 Z M-48 -12 V10 H-38.4 L-33.7 5 L-38.2 0 L-46 7.6 L-47.4 6.2 L-39.6 -1.5 L-44.2 -6.3 L-46.6 -3.9 L-48 -5.3 L-41.5 -12 Z M-42.8 -7.7 L-38.2 -3 L-33.7 -8 L-37.8 -12 H-38.6 Z" fill-rule="evenodd"/><text x="-27" y="-2.3" font-size="15.5" stroke-width="0.3" textLength="76" lengthAdjust="spacingAndGlyphs">BOOMING</text><text x="-26.5" y="12" font-size="15.5" stroke-width="0.3" textLength="46" lengthAdjust="spacingAndGlyphs">TECH</text></g>
<text transform="translate(893.0 392.2) rotate(-27.7)" x="-80" y="11.5" font-size="32.5" textLength="160" lengthAdjust="spacingAndGlyphs">GAMES104</text>
<g transform="translate(934.0 470.4) rotate(-27.7) translate(19 0)"><path stroke="none" d="M-50 -14 H-37 L-31 -8 L-37 -1.5 L-31 5 L-37.5 12 H-50 Z M-48 -12 V10 H-38.4 L-33.7 5 L-38.2 0 L-46 7.6 L-47.4 6.2 L-39.6 -1.5 L-44.2 -6.3 L-46.6 -3.9 L-48 -5.3 L-41.5 -12 Z M-42.8 -7.7 L-38.2 -3 L-33.7 -8 L-37.8 -12 H-38.6 Z" fill-rule="evenodd"/><text x="-27" y="-2.3" font-size="15.5" stroke-width="0.3" textLength="76" lengthAdjust="spacingAndGlyphs">BOOMING</text><text x="-26.5" y="12" font-size="15.5" stroke-width="0.3" textLength="46" lengthAdjust="spacingAndGlyphs">TECH</text></g>
<text transform="translate(975.0 548.6) rotate(-27.7)" x="-80" y="11.5" font-size="32.5" textLength="160" lengthAdjust="spacingAndGlyphs">GAMES104</text>
<g transform="translate(1016.1 626.8) rotate(-27.7) translate(19 0)"><path stroke="none" d="M-50 -14 H-37 L-31 -8 L-37 -1.5 L-31 5 L-37.5 12 H-50 Z M-48 -12 V10 H-38.4 L-33.7 5 L-38.2 0 L-46 7.6 L-47.4 6.2 L-39.6 -1.5 L-44.2 -6.3 L-46.6 -3.9 L-48 -5.3 L-41.5 -12 Z M-42.8 -7.7 L-38.2 -3 L-33.7 -8 L-37.8 -12 H-38.6 Z" fill-rule="evenodd"/><text x="-27" y="-2.3" font-size="15.5" stroke-width="0.3" textLength="76" lengthAdjust="spacingAndGlyphs">BOOMING</text><text x="-26.5" y="12" font-size="15.5" stroke-width="0.3" textLength="46" lengthAdjust="spacingAndGlyphs">TECH</text></g>
<text transform="translate(1057.1 705.0) rotate(-27.7)" x="-80" y="11.5" font-size="32.5" textLength="160" lengthAdjust="spacingAndGlyphs">GAMES104</text>
<g transform="translate(1098.2 783.1) rotate(-27.7) translate(19 0)"><path stroke="none" d="M-50 -14 H-37 L-31 -8 L-37 -1.5 L-31 5 L-37.5 12 H-50 Z M-48 -12 V10 H-38.4 L-33.7 5 L-38.2 0 L-46 7.6 L-47.4 6.2 L-39.6 -1.5 L-44.2 -6.3 L-46.6 -3.9 L-48 -5.3 L-41.5 -12 Z M-42.8 -7.7 L-38.2 -3 L-33.7 -8 L-37.8 -12 H-38.6 Z" fill-rule="evenodd"/><text x="-27" y="-2.3" font-size="15.5" stroke-width="0.3" textLength="76" lengthAdjust="spacingAndGlyphs">BOOMING</text><text x="-26.5" y="12" font-size="15.5" stroke-width="0.3" textLength="46" lengthAdjust="spacingAndGlyphs">TECH</text></g>
<g transform="translate(925.8 -23.9) rotate(-27.7) translate(19 0)"><path stroke="none" d="M-50 -14 H-37 L-31 -8 L-37 -1.5 L-31 5 L-37.5 12 H-50 Z M-48 -12 V10 H-38.4 L-33.7 5 L-38.2 0 L-46 7.6 L-47.4 6.2 L-39.6 -1.5 L-44.2 -6.3 L-46.6 -3.9 L-48 -5.3 L-41.5 -12 Z M-42.8 -7.7 L-38.2 -3 L-33.7 -8 L-37.8 -12 H-38.6 Z" fill-rule="evenodd"/><text x="-27" y="-2.3" font-size="15.5" stroke-width="0.3" textLength="76" lengthAdjust="spacingAndGlyphs">BOOMING</text><text x="-26.5" y="12" font-size="15.5" stroke-width="0.3" textLength="46" lengthAdjust="spacingAndGlyphs">TECH</text></g>
<text transform="translate(966.8 54.3) rotate(-27.7)" x="-80" y="11.5" font-size="32.5" textLength="160" lengthAdjust="spacingAndGlyphs">GAMES104</text>
<g transform="translate(1007.9 132.5) rotate(-27.7) translate(19 0)"><path stroke="none" d="M-50 -14 H-37 L-31 -8 L-37 -1.5 L-31 5 L-37.5 12 H-50 Z M-48 -12 V10 H-38.4 L-33.7 5 L-38.2 0 L-46 7.6 L-47.4 6.2 L-39.6 -1.5 L-44.2 -6.3 L-46.6 -3.9 L-48 -5.3 L-41.5 -12 Z M-42.8 -7.7 L-38.2 -3 L-33.7 -8 L-37.8 -12 H-38.6 Z" fill-rule="evenodd"/><text x="-27" y="-2.3" font-size="15.5" stroke-width="0.3" textLength="76" lengthAdjust="spacingAndGlyphs">BOOMING</text><text x="-26.5" y="12" font-size="15.5" stroke-width="0.3" textLength="46" lengthAdjust="spacingAndGlyphs">TECH</text></g>
<text transform="translate(1048.9 210.6) rotate(-27.7)" x="-80" y="11.5" font-size="32.5" textLength="160" lengthAdjust="spacingAndGlyphs">GAMES104</text>
<g transform="translate(1090.0 288.8) rotate(-27.7) translate(19 0)"><path stroke="none" d="M-50 -14 H-37 L-31 -8 L-37 -1.5 L-31 5 L-37.5 12 H-50 Z M-48 -12 V10 H-38.4 L-33.7 5 L-38.2 0 L-46 7.6 L-47.4 6.2 L-39.6 -1.5 L-44.2 -6.3 L-46.6 -3.9 L-48 -5.3 L-41.5 -12 Z M-42.8 -7.7 L-38.2 -3 L-33.7 -8 L-37.8 -12 H-38.6 Z" fill-rule="evenodd"/><text x="-27" y="-2.3" font-size="15.5" stroke-width="0.3" textLength="76" lengthAdjust="spacingAndGlyphs">BOOMING</text><text x="-26.5" y="12" font-size="15.5" stroke-width="0.3" textLength="46" lengthAdjust="spacingAndGlyphs">TECH</text></g>
<text transform="translate(1131.0 367.0) rotate(-27.7)" x="-80" y="11.5" font-size="32.5" textLength="160" lengthAdjust="spacingAndGlyphs">GAMES104</text>
<g transform="translate(1172.0 445.2) rotate(-27.7) translate(19 0)"><path stroke="none" d="M-50 -14 H-37 L-31 -8 L-37 -1.5 L-31 5 L-37.5 12 H-50 Z M-48 -12 V10 H-38.4 L-33.7 5 L-38.2 0 L-46 7.6 L-47.4 6.2 L-39.6 -1.5 L-44.2 -6.3 L-46.6 -3.9 L-48 -5.3 L-41.5 -12 Z M-42.8 -7.7 L-38.2 -3 L-33.7 -8 L-37.8 -12 H-38.6 Z" fill-rule="evenodd"/><text x="-27" y="-2.3" font-size="15.5" stroke-width="0.3" textLength="76" lengthAdjust="spacingAndGlyphs">BOOMING</text><text x="-26.5" y="12" font-size="15.5" stroke-width="0.3" textLength="46" lengthAdjust="spacingAndGlyphs">TECH</text></g>
<text transform="translate(1213.1 523.4) rotate(-27.7)" x="-80" y="11.5" font-size="32.5" textLength="160" lengthAdjust="spacingAndGlyphs">GAMES104</text>
<g transform="translate(1254.1 601.5) rotate(-27.7) translate(19 0)"><path stroke="none" d="M-50 -14 H-37 L-31 -8 L-37 -1.5 L-31 5 L-37.5 12 H-50 Z M-48 -12 V10 H-38.4 L-33.7 5 L-38.2 0 L-46 7.6 L-47.4 6.2 L-39.6 -1.5 L-44.2 -6.3 L-46.6 -3.9 L-48 -5.3 L-41.5 -12 Z M-42.8 -7.7 L-38.2 -3 L-33.7 -8 L-37.8 -12 H-38.6 Z" fill-rule="evenodd"/><text x="-27" y="-2.3" font-size="15.5" stroke-width="0.3" textLength="76" lengthAdjust="spacingAndGlyphs">BOOMING</text><text x="-26.5" y="12" font-size="15.5" stroke-width="0.3" textLength="46" lengthAdjust="spacingAndGlyphs">TECH</text></g>
<text transform="translate(1295.2 679.7) rotate(-27.7)" x="-80" y="11.5" font-size="32.5" textLength="160" lengthAdjust="spacingAndGlyphs">GAMES104</text>
<g transform="translate(1336.2 757.9) rotate(-27.7) translate(19 0)"><path stroke="none" d="M-50 -14 H-37 L-31 -8 L-37 -1.5 L-31 5 L-37.5 12 H-50 Z M-48 -12 V10 H-38.4 L-33.7 5 L-38.2 0 L-46 7.6 L-47.4 6.2 L-39.6 -1.5 L-44.2 -6.3 L-46.6 -3.9 L-48 -5.3 L-41.5 -12 Z M-42.8 -7.7 L-38.2 -3 L-33.7 -8 L-37.8 -12 H-38.6 Z" fill-rule="evenodd"/><text x="-27" y="-2.3" font-size="15.5" stroke-width="0.3" textLength="76" lengthAdjust="spacingAndGlyphs">BOOMING</text><text x="-26.5" y="12" font-size="15.5" stroke-width="0.3" textLength="46" lengthAdjust="spacingAndGlyphs">TECH</text></g>
<g transform="translate(1163.8 -49.1) rotate(-27.7) translate(19 0)"><path stroke="none" d="M-50 -14 H-37 L-31 -8 L-37 -1.5 L-31 5 L-37.5 12 H-50 Z M-48 -12 V10 H-38.4 L-33.7 5 L-38.2 0 L-46 7.6 L-47.4 6.2 L-39.6 -1.5 L-44.2 -6.3 L-46.6 -3.9 L-48 -5.3 L-41.5 -12 Z M-42.8 -7.7 L-38.2 -3 L-33.7 -8 L-37.8 -12 H-38.6 Z" fill-rule="evenodd"/><text x="-27" y="-2.3" font-size="15.5" stroke-width="0.3" textLength="76" lengthAdjust="spacingAndGlyphs">BOOMING</text><text x="-26.5" y="12" font-size="15.5" stroke-width="0.3" textLength="46" lengthAdjust="spacingAndGlyphs">TECH</text></g>
<text transform="translate(1204.9 29.0) rotate(-27.7)" x="-80" y="11.5" font-size="32.5" textLength="160" lengthAdjust="spacingAndGlyphs">GAMES104</text>
<g transform="translate(1245.9 107.2) rotate(-27.7) translate(19 0)"><path stroke="none" d="M-50 -14 H-37 L-31 -8 L-37 -1.5 L-31 5 L-37.5 12 H-50 Z M-48 -12 V10 H-38.4 L-33.7 5 L-38.2 0 L-46 7.6 L-47.4 6.2 L-39.6 -1.5 L-44.2 -6.3 L-46.6 -3.9 L-48 -5.3 L-41.5 -12 Z M-42.8 -7.7 L-38.2 -3 L-33.7 -8 L-37.8 -12 H-38.6 Z" fill-rule="evenodd"/><text x="-27" y="-2.3" font-size="15.5" stroke-width="0.3" textLength="76" lengthAdjust="spacingAndGlyphs">BOOMING</text><text x="-26.5" y="12" font-size="15.5" stroke-width="0.3" textLength="46" lengthAdjust="spacingAndGlyphs">TECH</text></g>
<text transform="translate(1287.0 185.4) rotate(-27.7)" x="-80" y="11.5" font-size="32.5" textLength="160" lengthAdjust="spacingAndGlyphs">GAMES104</text>
<g transform="translate(1328.0 263.6) rotate(-27.7) translate(19 0)"><path stroke="none" d="M-50 -14 H-37 L-31 -8 L-37 -1.5 L-31 5 L-37.5 12 H-50 Z M-48 -12 V10 H-38.4 L-33.7 5 L-38.2 0 L-46 7.6 L-47.4 6.2 L-39.6 -1.5 L-44.2 -6.3 L-46.6 -3.9 L-48 -5.3 L-41.5 -12 Z M-42.8 -7.7 L-38.2 -3 L-33.7 -8 L-37.8 -12 H-38.6 Z" fill-rule="evenodd"/><text x="-27" y="-2.3" font-size="15.5" stroke-width="0.3" textLength="76" lengthAdjust="spacingAndGlyphs">BOOMING</text><text x="-26.5" y="12" font-size="15.5" stroke-width="0.3" textLength="46" lengthAdjust="spacingAndGlyphs">TECH</text></g>
<text transform="translate(1369.0 341.8) rotate(-27.7)" x="-80" y="11.5" font-size="32.5" textLength="160" lengthAdjust="spacingAndGlyphs">GAMES104</text>
</g></svg>
</body>
</html>
